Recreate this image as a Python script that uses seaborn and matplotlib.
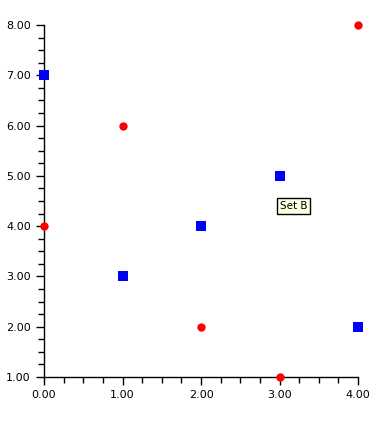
import pandas as pd
import matplotlib.pyplot as plt
from matplotlib.ticker import MultipleLocator, FormatStrFormatter
import seaborn as sns

# Data
x_vals = [0, 1, 2, 3, 4]
set_a = [4, 6, 2, 1, 8]
set_b = [7, 3, 4, 5, 2]

df_a = pd.DataFrame({'x': x_vals, 'y': set_a})
df_b = pd.DataFrame({'x': x_vals, 'y': set_b})

sns.set_style('ticks')
plt.rcParams['font.family'] = ['DejaVu Sans']

fig = plt.figure(figsize=(3.84, 4.21), dpi=100)
ax = fig.add_axes([44 / 384, 1 - 377 / 421, 314 / 384, 352 / 421])

sns.scatterplot(data=df_a, x='x', y='y', marker='o', color='#ff0000',
                s=36, linewidth=0, ax=ax, clip_on=False)
sns.scatterplot(data=df_b, x='x', y='y', marker='s', color='#0000ff',
                s=50, linewidth=0, ax=ax, clip_on=False)

# markers sit on top of the axis lines
for coll in ax.collections:
    coll.set_clip_on(False)
    coll.set_zorder(5)

ax.set_xlim(0, 4)
ax.set_ylim(1, 8)
ax.xaxis.set_major_locator(MultipleLocator(1))
ax.yaxis.set_major_locator(MultipleLocator(1))
ax.xaxis.set_minor_locator(MultipleLocator(0.25))
ax.yaxis.set_minor_locator(MultipleLocator(0.25))
ax.xaxis.set_major_formatter(FormatStrFormatter('%.2f'))
ax.yaxis.set_major_formatter(FormatStrFormatter('%.2f'))
ax.tick_params(which='major', length=6, width=1, labelsize=8,
               color='black', labelcolor='black')
ax.tick_params(which='minor', length=4, width=1, color='black')
ax.set_xlabel('')
ax.set_ylabel('')
for side in ['top', 'right']:
    ax.spines[side].set_visible(False)
for side in ['left', 'bottom']:
    ax.spines[side].set_color('black')
    ax.spines[side].set_linewidth(1)

ax.text(3.18, 4.4, 'Set B', fontsize=7.5, ha='center', va='center', color='black',
        zorder=6,
        bbox=dict(boxstyle='square,pad=0.25', fc='#ffffe1', ec='black', lw=1))

fig.savefig('out.png', dpi=100)
